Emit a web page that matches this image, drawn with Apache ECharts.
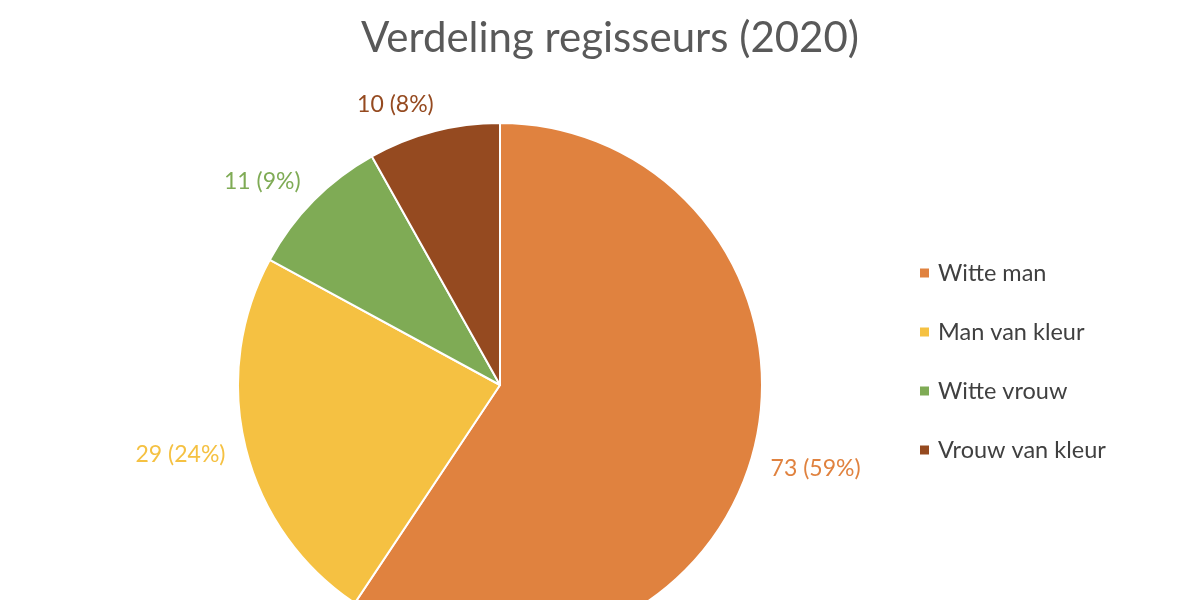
<!DOCTYPE html>
<html>
<head>
<meta charset="utf-8">
<script src="https://cdn.jsdelivr.net/npm/echarts@6/dist/echarts.min.js"></script>
<style>html,body{margin:0;padding:0;background:#fff;}#c{width:1200px;height:600px;}</style>
</head>
<body>
<div id="c"></div>
<script>
var categories = ['Witte man', 'Man van kleur', 'Witte vrouw', 'Vrouw van kleur'];
var values = [73, 29, 11, 10];
var colors = ['#E0823F', '#F5C142', '#7FAB55', '#954A20'];
var titleText = 'Verdeling regisseurs (2020)';

var total = values.reduce(function (a, b) { return a + b; }, 0);
var data = categories.map(function (c, i) {
  return { name: c, value: values[i], itemStyle: { color: colors[i] }, label: { color: colors[i] } };
});

var chart = echarts.init(document.getElementById('c'));
chart.setOption({
  animation: false,
  title: {
    text: titleText,
    left: 605,
    textAlign: 'center',
    top: 12,
    textStyle: { fontFamily: 'Lato', fontSize: 42, fontWeight: 'normal', color: '#595959' }
  },
  legend: {
    orient: 'vertical',
    left: 913,
    top: 255,
    itemWidth: 11,
    itemHeight: 11,
    itemGap: 33,
    icon: 'rect',
    data: categories,
    textStyle: { fontFamily: 'Lato', fontSize: 23.5, color: '#404040', lineHeight: 26, padding: [0, 0, 0, 3] }
  },
  series: [{
    type: 'pie',
    center: [500, 385],
    radius: 262,
    startAngle: 90,
    clockwise: true,
    avoidLabelOverlap: false,
    data: data,
    itemStyle: { borderColor: '#ffffff', borderWidth: 2 },
    label: {
      show: true,
      position: 'outside',
      distanceToLabelLine: -7,
      fontFamily: 'Lato',
      fontSize: 23,
      formatter: function (p) { return p.value + ' (' + Math.round(p.value / total * 100) + '%)'; }
    },
    labelLine: { show: false, length: 28, length2: 0 },
    emphasis: { disabled: true }
  }]
});
</script>
</body>
</html>
